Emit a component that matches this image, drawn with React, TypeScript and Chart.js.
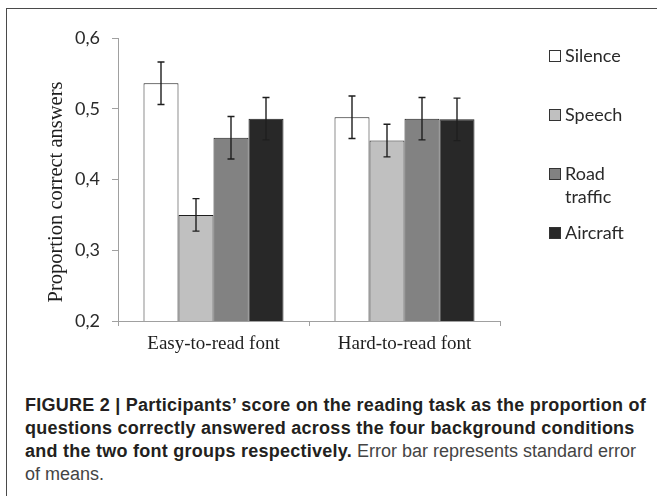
import React, { useEffect, useRef } from "react";
import { Chart, registerables } from "chart.js";

Chart.register(...registerables);

const categories = ["Easy-to-read font", "Hard-to-read font"];
const seriesNames = ["Silence", "Speech", "Road traffic", "Aircraft"];
const silence = [0.536, 0.488];
const speech = [0.35, 0.455];
const roadTraffic = [0.459, 0.486];
const aircraft = [0.486, 0.485];
const silenceErr = [0.03, 0.03];
const speechErr = [0.023, 0.023];
const roadTrafficErr = [0.03, 0.03];
const aircraftErr = [0.03, 0.03];
const yTickLabels = ["0,2", "0,3", "0,4", "0,5", "0,6"];
const yTitle = "Proportion correct answers";

const seriesValues = [silence, speech, roadTraffic, aircraft];
const seriesErrors = [silenceErr, speechErr, roadTrafficErr, aircraftErr];
const seriesColors = ["#ffffff", "#c0c0c0", "#828282", "#282828"];

const errorBarPlugin = {
  id: "errorBars",
  afterDatasetsDraw(chart: any) {
    const ctx = chart.ctx;
    const yScale = chart.scales.y;
    ctx.save();
    ctx.strokeStyle = "#1e1e1e";
    ctx.lineWidth = 1.4;
    chart.data.datasets.forEach((ds: any, i: number) => {
      const meta = chart.getDatasetMeta(i);
      meta.data.forEach((bar: any, j: number) => {
        const v = ds.data[j];
        const e = ds.errors[j];
        const x = bar.x;
        const yT = yScale.getPixelForValue(v + e);
        const yB = yScale.getPixelForValue(v - e);
        ctx.beginPath();
        ctx.moveTo(x, yT);
        ctx.lineTo(x, yB);
        ctx.moveTo(x - 3.5, yT);
        ctx.lineTo(x + 3.5, yT);
        ctx.moveTo(x - 3.5, yB);
        ctx.lineTo(x + 3.5, yB);
        ctx.stroke();
      });
    });
    ctx.restore();
  },
};

const sideTextPlugin = {
  id: "sideText",
  afterDraw(chart: any) {
    const ctx = chart.ctx;
    ctx.save();
    // y-axis title
    ctx.font = '20.5px "Liberation Serif"';
    ctx.fillStyle = "#1e1e1e";
    ctx.textAlign = "center";
    ctx.textBaseline = "middle";
    ctx.translate(57, 192);
    ctx.rotate(-Math.PI / 2);
    ctx.fillText(yTitle, 0, 0);
    ctx.restore();

    // legend
    ctx.save();
    ctx.font = '18px "Lato"';
    ctx.textAlign = "left";
    ctx.textBaseline = "middle";
    chart.data.datasets.forEach((ds: any, i: number) => {
      const cy = 56 + i * 59;
      ctx.fillStyle = ds.backgroundColor;
      ctx.fillRect(549.5, cy - 5.5, 11, 11);
      ctx.strokeStyle = "#333";
      ctx.lineWidth = 1;
      ctx.strokeRect(549.5, cy - 5.5, 11, 11);
      ctx.fillStyle = "#2a2a2a";
      const words = String(ds.label).split(" ");
      const lines: string[] = [];
      let cur = "";
      words.forEach((w) => {
        const t = cur ? cur + " " + w : w;
        if (cur && ctx.measureText(t).width > 70) {
          lines.push(cur);
          cur = w;
        } else cur = t;
      });
      if (cur) lines.push(cur);
      lines.forEach((l, k) => ctx.fillText(l, 565, cy + k * 23));
    });
    ctx.restore();
  },
};

export default function App() {
  const ref = useRef<HTMLCanvasElement | null>(null);
  useEffect(() => {
    if (!ref.current) return;
    const chart = new Chart(ref.current, {
      type: "bar",
      data: {
        labels: categories,
        datasets: seriesNames.map((name, i) => ({
          label: name,
          data: seriesValues[i],
          errors: seriesErrors[i],
          backgroundColor: seriesColors[i],
          borderColor: "#1e1e1e",
          borderWidth: 1,
          categoryPercentage: 0.733,
          barPercentage: 1,
        })) as any,
      },
      options: {
        animation: false,
        responsive: false,
        devicePixelRatio: 1,
        layout: { padding: { left: 0, right: 157, top: 38, bottom: 0 } },
        plugins: { legend: { display: false }, tooltip: { enabled: false } },
        scales: {
          x: {
            offset: true,
            grid: {
              offset: true,
              drawOnChartArea: false,
              tickLength: 5,
              color: "#a0a0a0",
            },
            border: { color: "#a0a0a0", width: 1 },
            ticks: {
              padding: 7,
              color: "#1e1e1e",
              font: { family: "Liberation Serif", size: 19 },
            },
            afterFit: (s: any) => {
              s.height = 39;
            },
          },
          y: {
            min: 0.2,
            max: 0.6,
            ticks: {
              stepSize: 0.1,
              padding: 12,
              color: "#2a2a2a",
              font: { family: "Lato", size: 18 },
              callback: (_v: any, idx: number) => yTickLabels[idx],
            },
            grid: {
              drawOnChartArea: false,
              tickLength: 6,
              color: "#a0a0a0",
            },
            border: { color: "#a0a0a0", width: 1 },
            afterFit: (s: any) => {
              s.width = 118;
            },
          },
        },
      },
      plugins: [errorBarPlugin, sideTextPlugin],
    });
    return () => chart.destroy();
  }, []);

  const bold: React.CSSProperties = { fontWeight: 700, color: "#231f20" };
  const light: React.CSSProperties = { fontWeight: 400, color: "#444", letterSpacing: 0 };
  return (
    <div
      style={{
        position: "absolute",
        left: 0,
        top: 0,
        width: 657,
        height: 496,
        overflow: "hidden",
        background: "#fff",
      }}
    >
      <div
        style={{
          position: "absolute",
          left: 6,
          top: 8,
          width: 700,
          height: 600,
          border: "1.5px solid #4a4a4a",
        }}
      />
      <canvas
        ref={ref}
        width={657}
        height={360}
        style={{ position: "absolute", left: 0, top: 0, width: 657, height: 360 }}
      />
      <div
        style={{
          position: "absolute",
          left: 25,
          top: 394,
          fontFamily: '"Liberation Sans", Arial, sans-serif',
          fontSize: 18,
          lineHeight: "23px",
          letterSpacing: 0.25,
          whiteSpace: "nowrap",
        }}
      >
        <div style={bold}>
          FIGURE 2 | Participants’ score on the reading task as the proportion of
        </div>
        <div style={bold}>
          questions correctly answered across the four background conditions
        </div>
        <div>
          <span style={bold}>and the two font groups respectively.</span>
          <span style={light}> Error bar represents standard error</span>
        </div>
        <div style={light}>of means.</div>
      </div>
    </div>
  );
}
